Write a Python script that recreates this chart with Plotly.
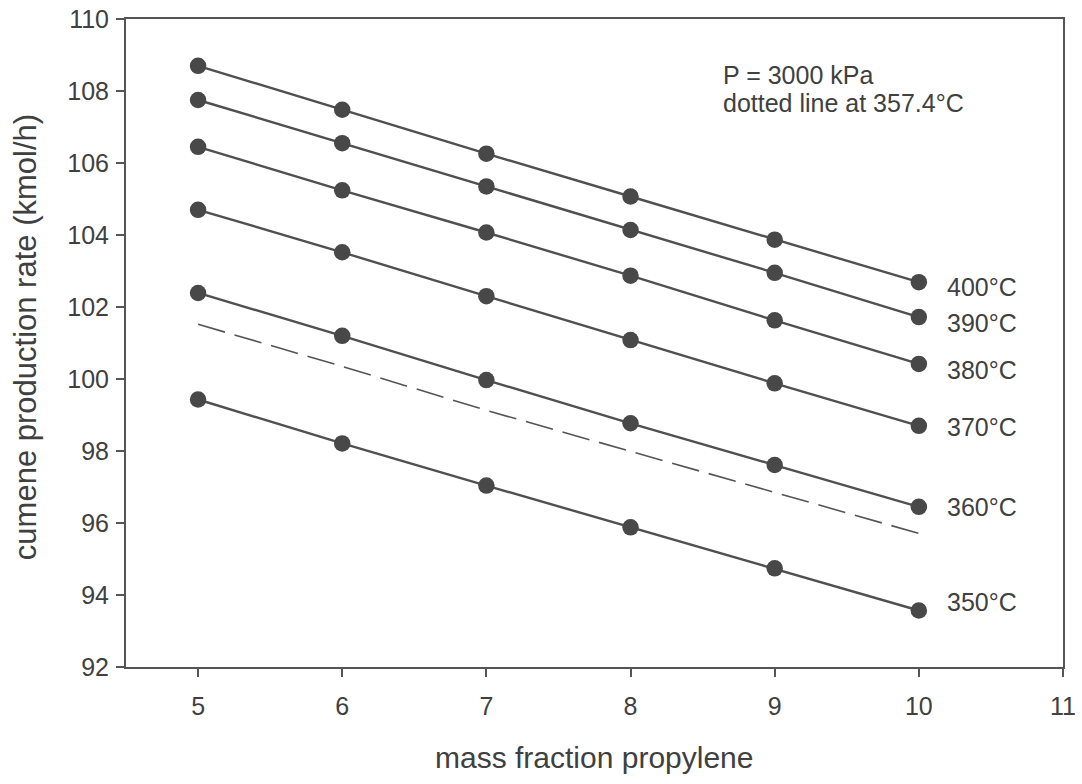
import plotly.graph_objects as go

mass_fraction = [5, 6, 7, 8, 9, 10]
temps = ["400°C", "390°C", "380°C", "370°C", "360°C", "350°C"]
rate_400 = [108.70, 107.48, 106.26, 105.07, 103.87, 102.69]
rate_390 = [107.75, 106.55, 105.35, 104.14, 102.95, 101.72]
rate_380 = [106.45, 105.24, 104.07, 102.87, 101.63, 100.42]
rate_370 = [104.70, 103.52, 102.30, 101.08, 99.88, 98.70]
rate_360 = [102.39, 101.20, 99.97, 98.77, 97.61, 96.45]
rate_350 = [99.43, 98.21, 97.04, 95.88, 94.74, 93.57]
rate_357_4 = [101.52, 100.35, 99.13, 98.00, 96.85, 95.71]
label_y = [102.56, 101.56, 100.25, 98.67, 96.45, 93.80]
note_lines = ["P = 3000 kPa", "dotted line at 357.4°C"]
note_y = [108.44, 107.67]

series = [rate_400, rate_390, rate_380, rate_370, rate_360, rate_350]

FONT = "Liberation Sans, Arial, sans-serif"
TXT = "#404040"
LINE = "#505050"

fig = go.Figure()
fig.add_trace(go.Scatter(
    x=mass_fraction, y=rate_357_4, mode="lines",
    line=dict(color="#555555", width=1.6, dash="28px,10px"),
    showlegend=False, hoverinfo="skip"))
for ys in series:
    fig.add_trace(go.Scatter(
        x=mass_fraction, y=ys, mode="lines+markers",
        line=dict(color=LINE, width=2.4),
        marker=dict(color="#484848", size=16.5),
        showlegend=False))

for t, ly in zip(temps, label_y):
    fig.add_annotation(x=10.18, y=ly, text=t, showarrow=False,
                       xanchor="left", yanchor="middle",
                       font=dict(family=FONT, size=25, color=TXT))

for t, ny in zip(note_lines, note_y):
    fig.add_annotation(x=8.63, y=ny, text=t, showarrow=False,
                       xanchor="left", yanchor="middle",
                       font=dict(family=FONT, size=25, color=TXT))

# axis titles
fig.add_annotation(x=0.5, y=0, xref="paper", yref="paper", yshift=-90,
                   text="mass fraction propylene", showarrow=False,
                   xanchor="center", yanchor="middle",
                   font=dict(family=FONT, size=30, color=TXT))
fig.add_annotation(x=0, y=0.509, xref="paper", yref="paper", xshift=-101,
                   text="cumene production rate (kmol/h)", showarrow=False,
                   textangle=-90, xanchor="center", yanchor="middle",
                   font=dict(family=FONT, size=31, color=TXT))

axis_common = dict(
    showline=True, linecolor="#555555", linewidth=2, mirror=True,
    ticks="outside", ticklen=8, tickwidth=1.5, tickcolor="#555555",
    showgrid=False, zeroline=False, automargin=False,
    tickfont=dict(family=FONT, size=25, color=TXT),
)

fig.update_xaxes(range=[4.5, 11], tickvals=[5, 6, 7, 8, 9, 10, 11],
                 ticklabelstandoff=8, **axis_common)
fig.update_yaxes(range=[92, 110], tickvals=list(range(92, 111, 2)),
                 ticklabelstandoff=2, **axis_common)

fig.update_layout(
    width=1082, height=784,
    margin=dict(l=126, r=19, t=19, b=117),
    plot_bgcolor="white", paper_bgcolor="white",
)

fig.write_html("out.html", config={"displayModeBar": False},
               post_script="document.body.style.margin='0px';")
